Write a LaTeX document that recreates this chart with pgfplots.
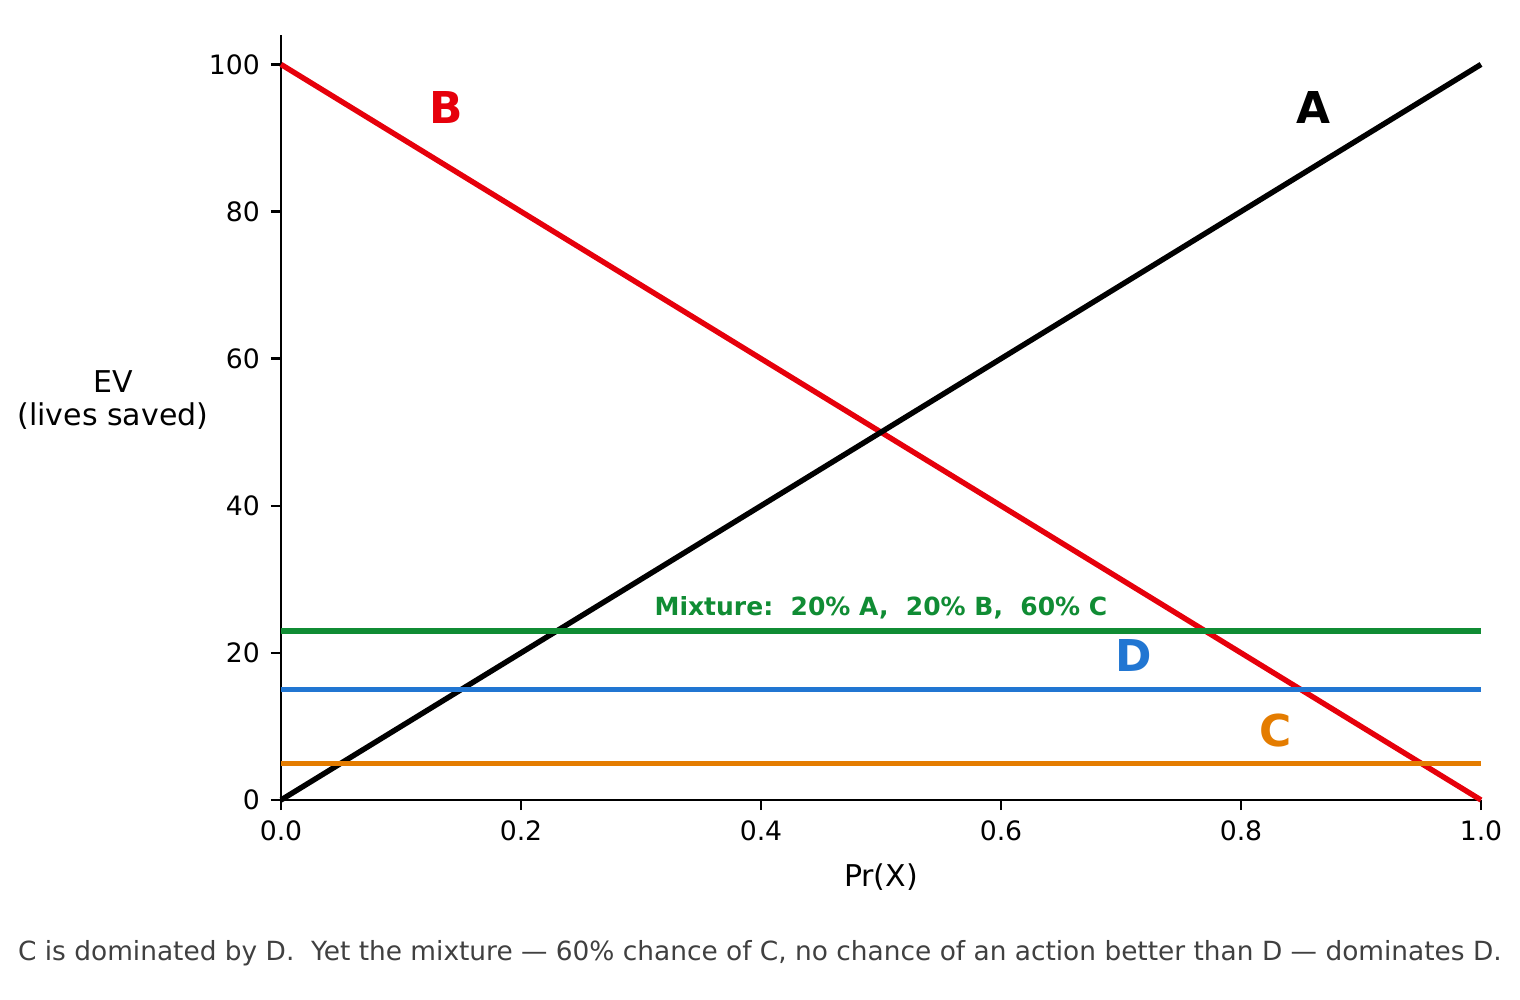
\documentclass[border=0pt]{standalone}
\usepackage{pgfplots}
\pgfplotsset{compat=1.18}
\usepackage{fontspec}
\setmainfont{DejaVu Sans}
\definecolor{cA}{RGB}{0,0,0}
\definecolor{cB}{RGB}{230,0,11}
\definecolor{cC}{RGB}{228,124,0}
\definecolor{cD}{RGB}{33,118,210}
\definecolor{cM}{RGB}{16,140,52}
\definecolor{cap}{RGB}{64,64,64}
\begin{document}
\begin{tikzpicture}
\useasboundingbox (-101.16bp,-72bp) rectangle (446.04bp,288bp);
\begin{axis}[
  at={(0,0)}, anchor=south west,
  scale only axis, width=432bp, height=275.4bp,
  xmin=0, xmax=1, ymin=0, ymax=104,
  axis x line*=bottom, axis y line*=left,
  axis line style={-, line width=0.9bp},
  xtick={0,0.2,0.4,0.6,0.8,1.0},
  ytick={0,20,40,60,80,100},
  xticklabel style={/pgf/number format/.cd, fixed, fixed zerofill, precision=1},
  /pgf/number format/assume math mode=true,
  tick align=outside, major tick length=3.6bp,
  tick style={line width=0.9bp, black},
  ticklabel style={font=\fontsize{9.6bp}{11bp}\selectfont},
  xticklabel shift=0.5bp, yticklabel shift=0.5bp,
  clip=false,
]
\addplot[cB, line width=1.95bp] coordinates {(0,100) (1,0)};
\addplot[cA, line width=1.95bp] coordinates {(0,0) (1,100)};
\addplot[cM, line width=1.95bp] coordinates {(0,23) (1,23)};
\addplot[cD, line width=1.95bp] coordinates {(0,15) (1,15)};
\addplot[cC, line width=1.95bp] coordinates {(0,5) (1,5)};
\node[text=cB, font=\fontsize{15.8bp}{18bp}\selectfont\bfseries] at (axis cs:0.138,94.1) {B};
\node[text=cA, font=\fontsize{15.8bp}{18bp}\selectfont\bfseries] at (axis cs:0.86,94.1) {A};
\node[text=cD, font=\fontsize{15.8bp}{18bp}\selectfont\bfseries] at (axis cs:0.711,19.6) {D};
\node[text=cC, font=\fontsize{15.8bp}{18bp}\selectfont\bfseries] at (axis cs:0.829,9.5) {C};
\node[text=cM, font=\fontsize{9bp}{10bp}\selectfont\bfseries] at (axis cs:0.5,26.1) {Mixture:\ \ 20\% A,\ \ 20\% B,\ \ 60\% C};
\end{axis}
\node[align=center, font=\fontsize{10.8bp}{12bp}\selectfont] at (-60.5bp,144bp) {EV\\(lives saved)};
\node[font=\fontsize{10.8bp}{12bp}\selectfont] at (216bp,-27.7bp) {Pr(X)};
\node[text=cap, font=\fontsize{9.5bp}{11bp}\selectfont] at (172.4bp,-55.1bp) {C is dominated by D.\ \ Yet the mixture — 60\% chance of C, no chance of an action better than D — dominates D.};
\end{tikzpicture}
\end{document}
